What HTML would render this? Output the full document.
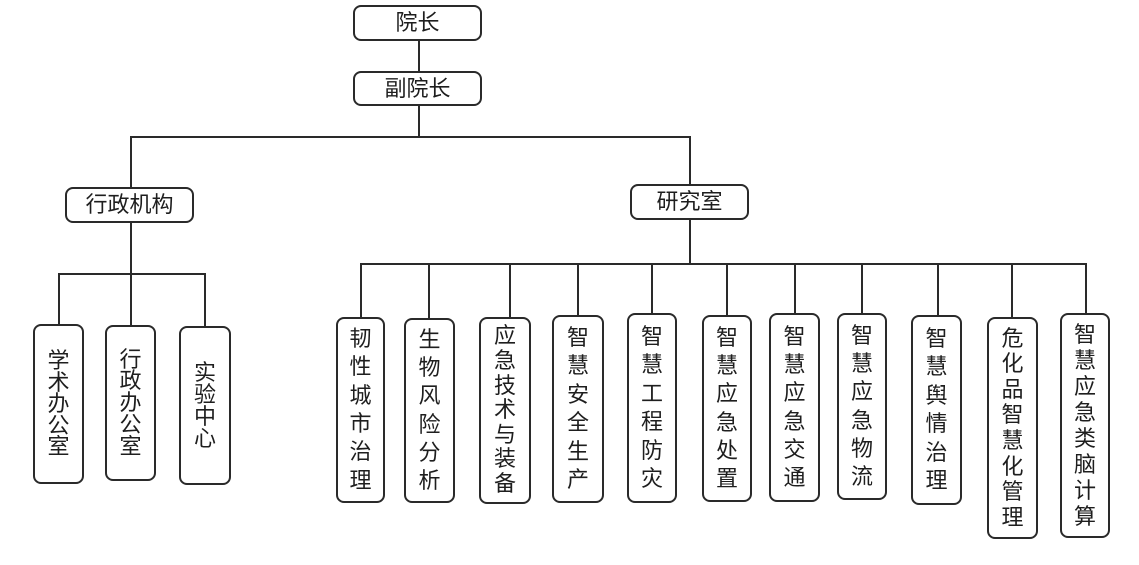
<!DOCTYPE html>
<html>
<head>
<meta charset="utf-8">
<style>
html,body{margin:0;padding:0;background:#fff;}
body{width:1139px;height:565px;position:relative;overflow:hidden;font-family:"Liberation Sans","Noto Sans CJK SC",sans-serif;color:#1e1e1e;}
.b{position:absolute;box-sizing:border-box;border:2px solid #2a2a2a;border-radius:8px;background:#fff;display:flex;align-items:center;justify-content:center;font-size:22px;}
.h{line-height:1;letter-spacing:0;}
.v{flex-direction:column;text-align:center;}
.v span{display:block;width:22px;text-align:center;}
svg{position:absolute;left:0;top:0;}
</style>
</head>
<body>
<svg width="1139" height="565" viewBox="0 0 1139 565">
<g stroke="#2a2a2a" stroke-width="2" fill="none">
<line x1="419" y1="41" x2="419" y2="71"/>
<line x1="419" y1="106" x2="419" y2="137"/>
<line x1="130" y1="137" x2="691" y2="137"/>
<line x1="131" y1="137" x2="131" y2="187"/>
<line x1="690" y1="137" x2="690" y2="184"/>
<line x1="131" y1="223" x2="131" y2="326"/>
<line x1="58" y1="274" x2="206" y2="274"/>
<line x1="59" y1="274" x2="59" y2="325"/>
<line x1="205" y1="274" x2="205" y2="327"/>
<line x1="690" y1="220" x2="690" y2="264"/>
<line x1="360" y1="264" x2="1087" y2="264"/>
<line x1="361" y1="264" x2="361" y2="318"/>
<line x1="429" y1="264" x2="429" y2="319"/>
<line x1="510" y1="264" x2="510" y2="318"/>
<line x1="578" y1="264" x2="578" y2="316"/>
<line x1="652" y1="264" x2="652" y2="314"/>
<line x1="727" y1="264" x2="727" y2="316"/>
<line x1="795" y1="264" x2="795" y2="314"/>
<line x1="862" y1="264" x2="862" y2="314"/>
<line x1="938" y1="264" x2="938" y2="316"/>
<line x1="1012" y1="264" x2="1012" y2="318"/>
<line x1="1086" y1="264" x2="1086" y2="314"/>
</g>
</svg>

<div class="b h" style="left:353px;top:5px;width:129px;height:36px;">院长</div>
<div class="b h" style="left:353px;top:71px;width:129px;height:35px;">副院长</div>
<div class="b h" style="left:65px;top:187px;width:129px;height:36px;">行政机构</div>
<div class="b h" style="left:630px;top:184px;width:119px;height:36px;">研究室</div>

<div class="b v" style="left:33px;top:324px;width:51px;height:160px;line-height:21.6px;"><span>学</span><span>术</span><span>办</span><span>公</span><span>室</span></div>
<div class="b v" style="left:105px;top:325px;width:51px;height:156px;line-height:21.8px;"><span>行</span><span>政</span><span>办</span><span>公</span><span>室</span></div>
<div class="b v" style="left:179px;top:326px;width:52px;height:159px;line-height:22px;"><span>实</span><span>验</span><span>中</span><span>心</span></div>

<div class="b v" style="left:336px;top:317px;width:49px;height:186px;line-height:28.3px;"><span>韧</span><span>性</span><span>城</span><span>市</span><span>治</span><span>理</span></div>
<div class="b v" style="left:404px;top:318px;width:51px;height:185px;line-height:28.3px;"><span>生</span><span>物</span><span>风</span><span>险</span><span>分</span><span>析</span></div>
<div class="b v" style="left:479px;top:317px;width:52px;height:187px;line-height:24.6px;"><span>应</span><span>急</span><span>技</span><span>术</span><span>与</span><span>装</span><span>备</span></div>
<div class="b v" style="left:552px;top:315px;width:52px;height:188px;line-height:28.5px;"><span>智</span><span>慧</span><span>安</span><span>全</span><span>生</span><span>产</span></div>
<div class="b v" style="left:627px;top:313px;width:50px;height:190px;line-height:28.5px;"><span>智</span><span>慧</span><span>工</span><span>程</span><span>防</span><span>灾</span></div>
<div class="b v" style="left:702px;top:315px;width:50px;height:187px;line-height:28.3px;"><span>智</span><span>慧</span><span>应</span><span>急</span><span>处</span><span>置</span></div>
<div class="b v" style="left:769px;top:313px;width:51px;height:189px;line-height:28.3px;"><span>智</span><span>慧</span><span>应</span><span>急</span><span>交</span><span>通</span></div>
<div class="b v" style="left:837px;top:313px;width:50px;height:187px;line-height:28.3px;"><span>智</span><span>慧</span><span>应</span><span>急</span><span>物</span><span>流</span></div>
<div class="b v" style="left:911px;top:315px;width:51px;height:190px;line-height:28.5px;"><span>智</span><span>慧</span><span>舆</span><span>情</span><span>治</span><span>理</span></div>
<div class="b v" style="left:987px;top:317px;width:51px;height:222px;line-height:25.6px;"><span>危</span><span>化</span><span>品</span><span>智</span><span>慧</span><span>化</span><span>管</span><span>理</span></div>
<div class="b v" style="left:1060px;top:313px;width:50px;height:225px;line-height:26px;"><span>智</span><span>慧</span><span>应</span><span>急</span><span>类</span><span>脑</span><span>计</span><span>算</span></div>
</body>
</html>
